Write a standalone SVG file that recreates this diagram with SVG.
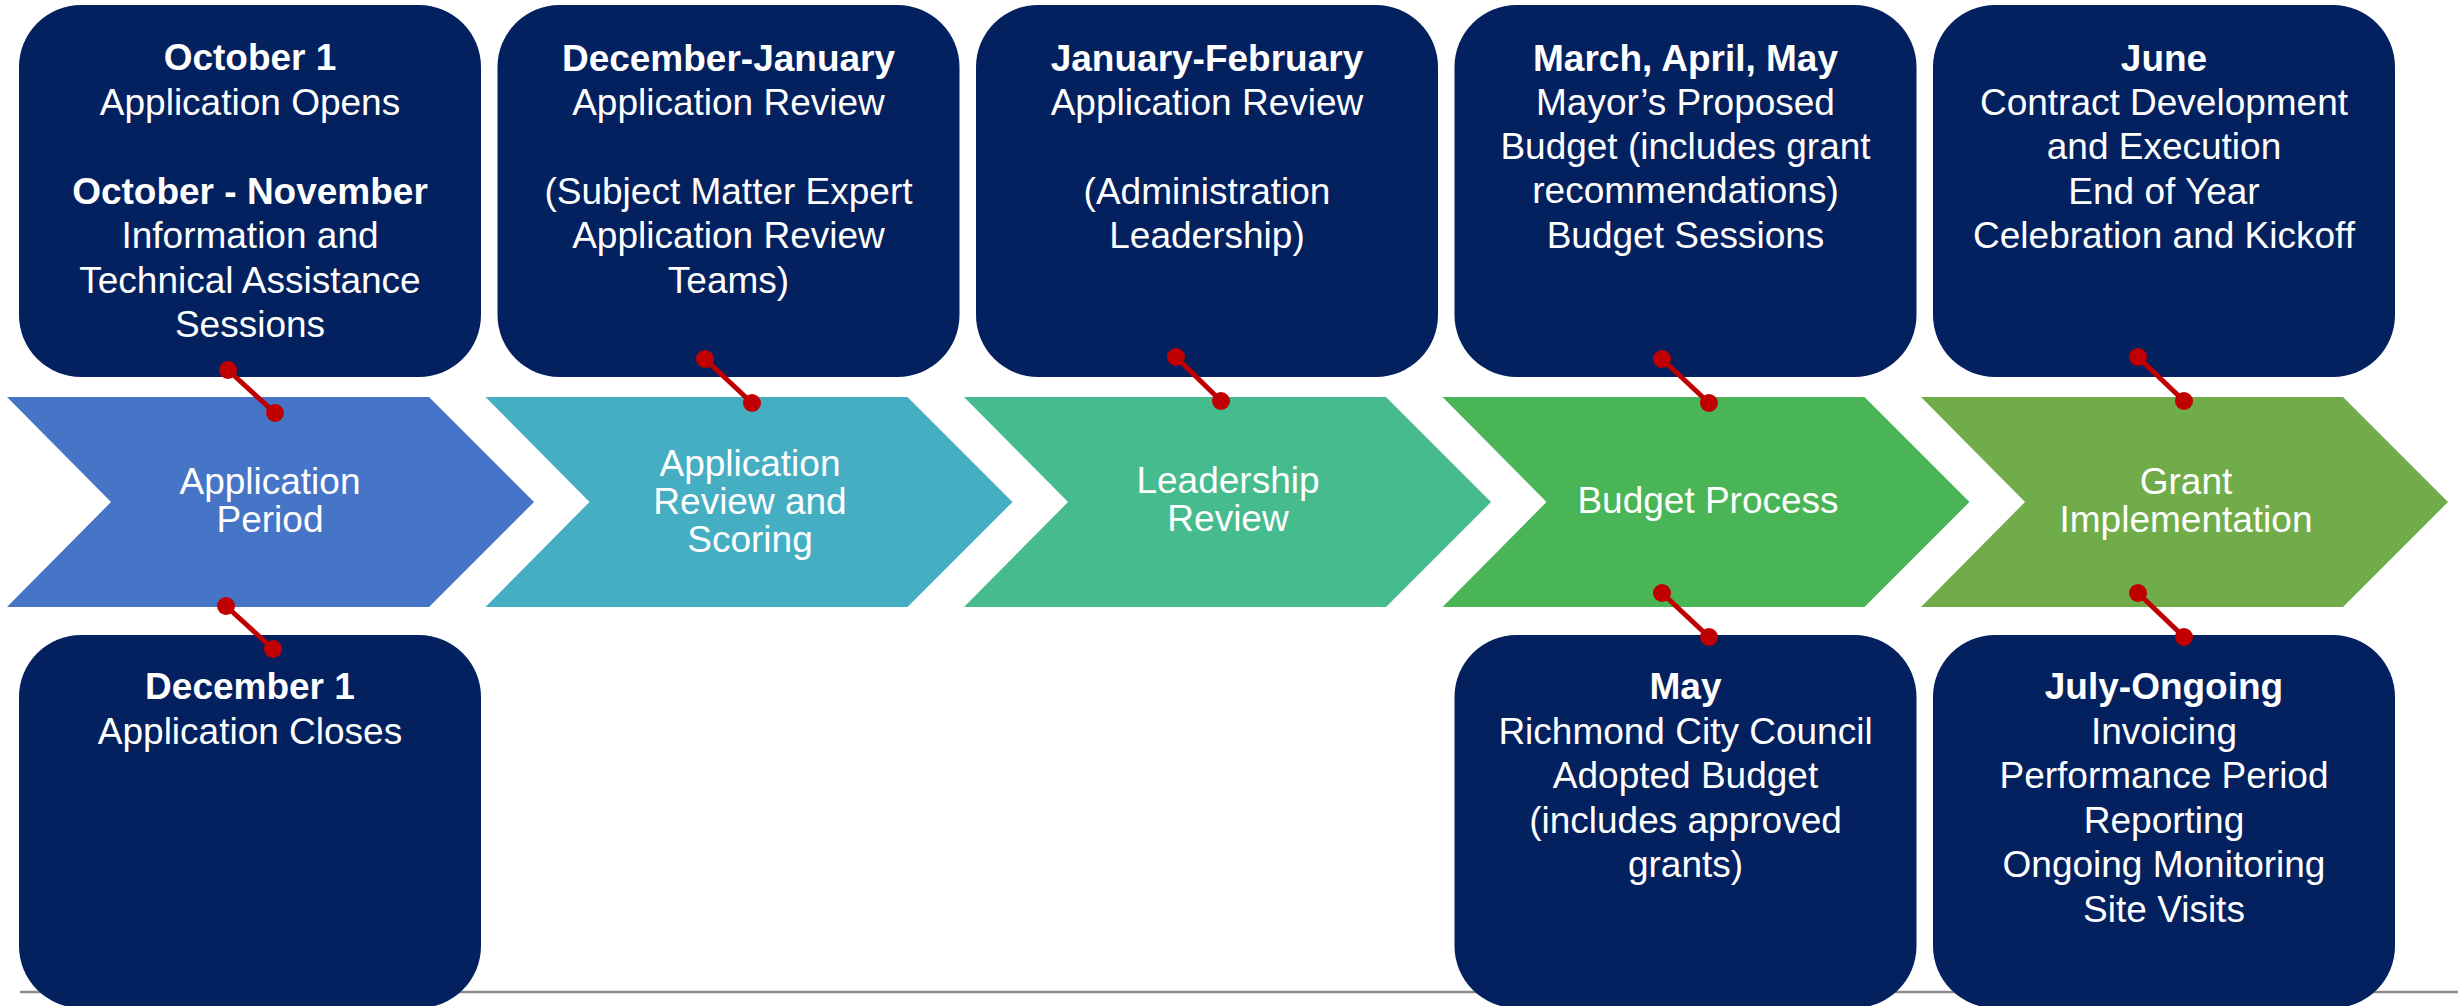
<svg xmlns="http://www.w3.org/2000/svg" width="2458" height="1006" viewBox="0 0 2458 1006">
<style>
.box{fill:#03215E}
.t{font-family:"Liberation Sans",Arial,sans-serif;font-size:37px;fill:#FFFFFF;text-anchor:middle}
.b{font-weight:bold}
.con{stroke:#C00000;stroke-width:5;fill:none;marker-start:url(#dot);marker-end:url(#dot)}
</style>
<defs>
<marker id="dot" markerUnits="userSpaceOnUse" markerWidth="20" markerHeight="20" refX="10" refY="10" viewBox="0 0 20 20">
<circle cx="10" cy="10" r="9" fill="#C00000"/>
</marker>
</defs>
<rect width="2458" height="1006" fill="#FFFFFF"/>
<line x1="20" y1="992" x2="2458" y2="992" stroke="#8C8C8C" stroke-width="2.5"/>

<g id="box-oct">
<rect class="box" x="19" y="5" width="462" height="372" rx="62"/>
<text class="t b" x="250" y="70">October 1</text>
<text class="t" x="250" y="115">Application Opens</text>
<text class="t b" x="250" y="204">October - November</text>
<text class="t" x="250" y="248">Information and</text>
<text class="t" x="250" y="293">Technical Assistance</text>
<text class="t" x="250" y="337">Sessions</text>
</g>
<g id="box-dec-jan">
<rect class="box" x="497.5" y="5" width="462" height="372" rx="62"/>
<text class="t b" x="728.5" y="71">December-January</text>
<text class="t" x="728.5" y="115">Application Review</text>
<text class="t" x="728.5" y="204">(Subject Matter Expert</text>
<text class="t" x="728.5" y="248">Application Review</text>
<text class="t" x="728.5" y="293">Teams)</text>
</g>
<g id="box-jan-feb">
<rect class="box" x="976" y="5" width="462" height="372" rx="62"/>
<text class="t b" x="1207" y="71">January-February</text>
<text class="t" x="1207" y="115">Application Review</text>
<text class="t" x="1207" y="204">(Administration</text>
<text class="t" x="1207" y="248">Leadership)</text>
</g>
<g id="box-mar-may">
<rect class="box" x="1454.5" y="5" width="462" height="372" rx="62"/>
<text class="t b" x="1685.5" y="71">March, April, May</text>
<text class="t" x="1685.5" y="115">Mayor’s Proposed</text>
<text class="t" x="1685.5" y="159">Budget (includes grant</text>
<text class="t" x="1685.5" y="203">recommendations)</text>
<text class="t" x="1685.5" y="248">Budget Sessions</text>
</g>
<g id="box-june">
<rect class="box" x="1933" y="5" width="462" height="372" rx="62"/>
<text class="t b" x="2164" y="71">June</text>
<text class="t" x="2164" y="115">Contract Development</text>
<text class="t" x="2164" y="159">and Execution</text>
<text class="t" x="2164" y="204">End of Year</text>
<text class="t" x="2164" y="248">Celebration and Kickoff</text>
</g>

<g id="box-dec1">
<rect class="box" x="19" y="635" width="462" height="373" rx="62"/>
<text class="t b" x="250" y="699">December 1</text>
<text class="t" x="250" y="744">Application Closes</text>
</g>
<g id="box-may">
<rect class="box" x="1454.5" y="635" width="462" height="373" rx="62"/>
<text class="t b" x="1685.5" y="699">May</text>
<text class="t" x="1685.5" y="744">Richmond City Council</text>
<text class="t" x="1685.5" y="788">Adopted Budget</text>
<text class="t" x="1685.5" y="833">(includes approved</text>
<text class="t" x="1685.5" y="877">grants)</text>
</g>
<g id="box-july">
<rect class="box" x="1933" y="635" width="462" height="373" rx="62"/>
<text class="t b" x="2164" y="699">July-Ongoing</text>
<text class="t" x="2164" y="744">Invoicing</text>
<text class="t" x="2164" y="788">Performance Period</text>
<text class="t" x="2164" y="833">Reporting</text>
<text class="t" x="2164" y="877">Ongoing Monitoring</text>
<text class="t" x="2164" y="922">Site Visits</text>
</g>

<g id="chev-application-period">
<polygon points="7,397 429,397 534,502 429,607 7,607 111,502" fill="#4674C6"/>
<text class="t" x="270" y="494">Application</text>
<text class="t" x="270" y="532">Period</text>
</g>
<g id="chev-review-scoring">
<polygon points="485.5,397 907.5,397 1012.5,502 907.5,607 485.5,607 589.5,502" fill="#46AEC2"/>
<text class="t" x="750" y="476">Application</text>
<text class="t" x="750" y="514">Review and</text>
<text class="t" x="750" y="552">Scoring</text>
</g>
<g id="chev-leadership">
<polygon points="964,397 1386,397 1491,502 1386,607 964,607 1068,502" fill="#45BB8E"/>
<text class="t" x="1228" y="493">Leadership</text>
<text class="t" x="1228" y="531">Review</text>
</g>
<g id="chev-budget">
<polygon points="1442.5,397 1864.5,397 1969.5,502 1864.5,607 1442.5,607 1546.5,502" fill="#4AB556"/>
<text class="t" x="1708" y="513">Budget Process</text>
</g>
<g id="chev-grant">
<polygon points="1921,397 2343,397 2448,502 2343,607 1921,607 2025,502" fill="#71AC4A"/>
<text class="t" x="2186" y="494">Grant</text>
<text class="t" x="2186" y="532">Implementation</text>
</g>

<g id="connectors">
<line class="con" x1="228" y1="370" x2="275" y2="413"/>
<line class="con" x1="705" y1="359" x2="752" y2="403"/>
<line class="con" x1="1176" y1="357" x2="1221" y2="401"/>
<line class="con" x1="1662" y1="359" x2="1709" y2="403"/>
<line class="con" x1="2138" y1="357" x2="2184" y2="401"/>
<line class="con" x1="226" y1="606" x2="273" y2="649"/>
<line class="con" x1="1662" y1="593" x2="1709" y2="637"/>
<line class="con" x1="2138" y1="593" x2="2184" y2="637"/>
</g>
</svg>
